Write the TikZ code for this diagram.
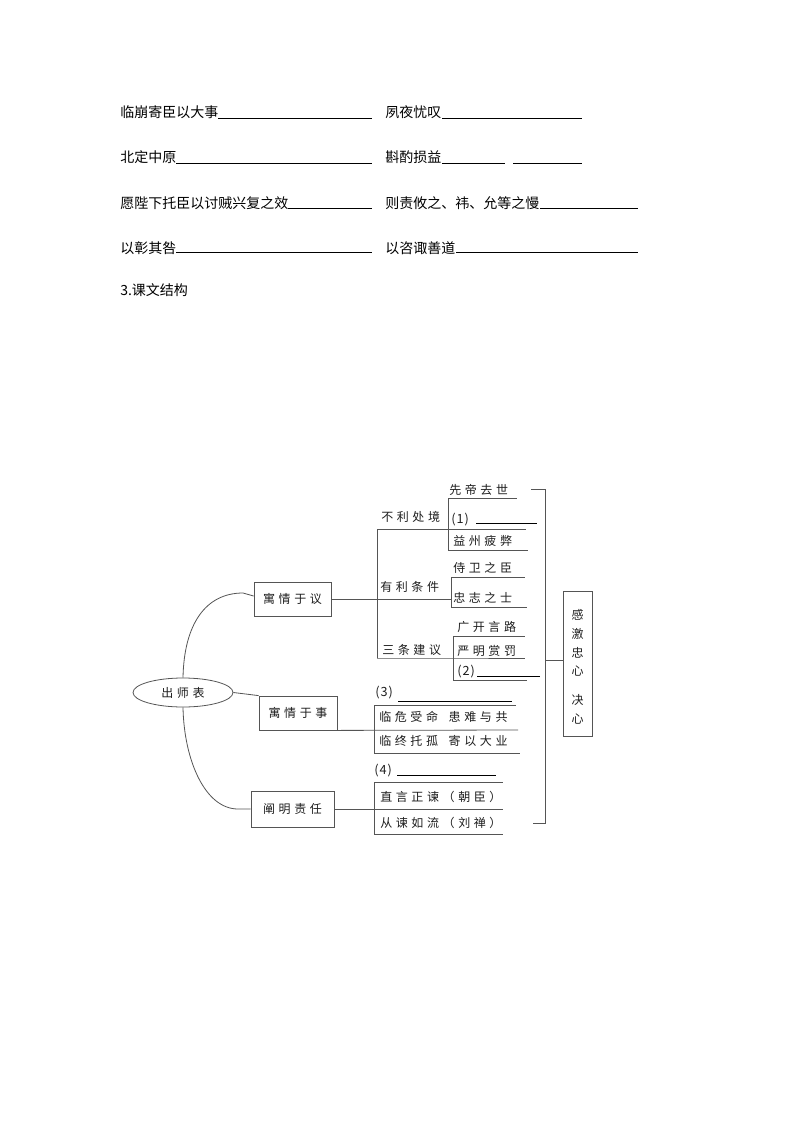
\documentclass[tikz,border=0pt]{standalone}
\usepackage{fontspec}
\setmainfont{Noto Sans CJK SC}
\newfontfamily\cjkd[LetterSpace=30]{Noto Sans CJK SC}
\newfontfamily\cjkp[LetterSpace=8]{Noto Sans CJK SC}
\usetikzlibrary{shapes.geometric}
\definecolor{lncol}{RGB}{85,85,85}
\definecolor{txtcol}{RGB}{30,30,30}
\begin{document}
\begin{tikzpicture}[x=0.75pt,y=-0.75pt,
  ln/.style={draw=lncol, line width=0.6pt},
  ul/.style={draw=black, line width=0.6pt},
  tt/.style={anchor=west, inner sep=0pt, font=\fontsize{10.5pt}{10.5pt}\selectfont, text=black},
  dt/.style={anchor=west, inner sep=0pt, font=\cjkd\fontsize{9pt}{9pt}\selectfont, text=txtcol},
  dtp/.style={anchor=west, inner sep=0pt, font=\cjkp\fontsize{9.5pt}{9.5pt}\selectfont, text=txtcol},
  boxn/.style={draw=lncol, line width=0.6pt, inner sep=0pt, font=\cjkd\fontsize{9pt}{9pt}\selectfont, text=txtcol}]
\useasboundingbox (0,0) rectangle (794,1123);
\fill[white] (0,0) rectangle (794,1123);

% ---------- top exercise lines ----------
\node[tt] (t1) at (120,112) {临崩寄臣以大事};
\draw[ul] (218,118) -- (372,118);
\node[tt] (t2) at (385,112) {夙夜忧叹};
\draw[ul] (442,118) -- (582,118);

\node[tt] (t3) at (120,157) {北定中原};
\draw[ul] (176,163) -- (372,163);
\node[tt] (t4) at (385,157) {斟酌损益};
\draw[ul] (442,163) -- (505,163);
\draw[ul] (513,163) -- (582,163);

\node[tt] (t5) at (120,203) {愿陛下托臣以讨贼兴复之效};
\draw[ul] (288,208) -- (372,208);
\node[tt] (t6) at (385,203) {则责攸之、祎、允等之慢};
\draw[ul] (540,208) -- (638,208);

\node[tt] (t7) at (120,248) {以彰其咎};
\draw[ul] (176,252) -- (372,252);
\node[tt] (t8) at (385,248) {以咨诹善道};
\draw[ul] (456,252) -- (638,252);

\node[tt] (t9) at (120,290) {3.课文结构};

% ---------- diagram nodes ----------
\node[boxn, ellipse, minimum width=75pt, minimum height=21.75pt] (cst) at (183,692.5) {出师表};
\node[boxn, minimum width=57.75pt, minimum height=25.5pt] (yy) at (292.5,599) {寓情于议};
\node[boxn, minimum width=58.5pt, minimum height=25.5pt] (ys) at (298,713) {寓情于事};
\node[boxn, minimum width=62.25pt, minimum height=27pt] (cm) at (292.5,809) {阐明责任};
\node[boxn, minimum width=21.75pt, minimum height=108.75pt] (vb) at (577.5,663.5) {};
\node[inner sep=0pt, align=center, font=\fontsize{9pt}{14pt}\selectfont, text=txtcol] (vt) at (577.5,667) {感\\激\\忠\\心\\[7.7pt]决\\心};

\node[dt] (n1) at (449,490) {先帝去世};
\node[dt] (n2) at (381,517) {不利处境};
\node[dtp] (n3) at (451,520) {(1)};
\node[dt] (n4) at (453,541) {益州疲弊};
\node[dt] (n5) at (453,568) {侍卫之臣};
\node[dt] (n6) at (380,587) {有利条件};
\node[dt] (n7) at (453,598) {忠志之士};
\node[dt] (n8) at (457,627) {广开言路};
\node[dt] (n9) at (457,651) {严明赏罚};
\node[dt] (n10) at (382,650) {三条建议};
\node[dtp] (n11) at (457,672) {(2)};
\node[dtp] (n12) at (375,693) {(3)};
\node[dt] (n13) at (379,717) {临危受命\hspace{8pt}患难与共};
\node[dt] (n14) at (379,741) {临终托孤\hspace{8pt}寄以大业};
\node[dtp] (n15) at (374,771) {(4)};
\node[dt] (n16) at (380,797) {直言正谏（朝臣）};
\node[dt] (n17) at (380,823) {从谏如流（刘禅）};

% ---------- named junctions ----------
\coordinate (a1) at (377,529);
\coordinate (a2) at (377,658);
\coordinate (b1t) at (448,498);
\coordinate (b1b) at (448,550);
\coordinate (b2t) at (451,577);
\coordinate (b2m) at (451,599);
\coordinate (b2b) at (451,607);
\coordinate (b3t) at (453,636);
\coordinate (b3m) at (453,658);
\coordinate (b3b) at (453,680);
\coordinate (c1t) at (374,705);
\coordinate (c1b) at (374,753);
\coordinate (d1t) at (374,782);
\coordinate (d1b) at (374,834);
\coordinate (r1) at (545,489);
\coordinate (r2) at (545,823);
\coordinate (rm) at (545,660);

% ---------- connectors from 出师表 ----------
\draw[ln] (cst.north) .. controls (184,625) and (205,593) .. (243,593) -- ([yshift=2.25pt]yy.west);
\draw[ln] (cst.south) .. controls (184,760) and (205,809) .. (238,809) -- (cm.west);
\draw[ln] (cst.east) -- (ys.north west);

% ---------- 寓情于议 tree ----------
\draw[ln] (yy.east) -- (b2m);
\draw[ln] (a1) -- (a2);
% block 1
\draw[ln] (b1t) -- (b1b);
\draw[ln] (b1t) -- (517,498);
\draw[ln] (a1) -- (526,529);
\draw[ln] (b1b) -- (528,550);
\draw[ul] (476,523) -- (537,523);
% block 2
\draw[ln] (b2t) -- (b2b);
\draw[ln] (b2t) -- (525,577);
\draw[ln] (b2b) -- (527,607);
% block 3
\draw[ln] (b3t) -- (b3b);
\draw[ln] (b3t) -- (525,636);
\draw[ln] (a2) -- (b3m) -- (525,658);
\draw[ln] (b3b) -- (527,680);
\draw[ul] (477,676) -- (540,676);

% ---------- 寓情于事 ----------
\draw[ln] (ys.south east) -- (518,730);
\draw[ln] (c1t) -- (c1b);
\draw[ln] (c1t) -- (516,705);
\draw[ln] (c1b) -- (520,753);
\draw[ul] (398,701) -- (512,701);

% ---------- 阐明责任 ----------
\draw[ln] (cm.east) -- (503,809);
\draw[ln] (d1t) -- (d1b);
\draw[ln] (d1t) -- (503,782);
\draw[ln] (d1b) -- (503,834);
\draw[ul] (397,775) -- (496,775);

% ---------- right bracket ----------
\draw[ln] (531,489) -- (r1) -- (r2) -- (533,823);
\draw[ln] (rm) -- (vb.west |- rm);
\end{tikzpicture}
\end{document}
